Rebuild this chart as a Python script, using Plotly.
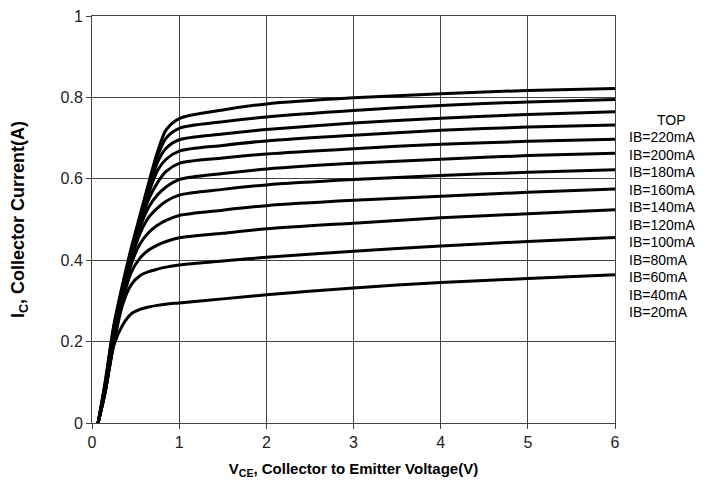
import plotly.graph_objects as go

# V_CE sample points (V)
vce = [0.07, 0.15, 0.25, 0.35, 0.45, 0.55, 0.65, 0.75, 0.85, 1.0, 1.5, 2, 3, 4, 5, 6]

# Collector current (A) for each base current
ib_labels = ["IB=220mA", "IB=200mA", "IB=180mA", "IB=160mA", "IB=140mA", "IB=120mA",
             "IB=100mA", "IB=80mA", "IB=60mA", "IB=40mA", "IB=20mA"]

ic_220 = [0, 0.10, 0.24, 0.34, 0.43, 0.51, 0.59, 0.665, 0.72, 0.748, 0.769, 0.784, 0.799, 0.809, 0.817, 0.822]
ic_200 = [0, 0.095, 0.235, 0.335, 0.425, 0.505, 0.585, 0.655, 0.70, 0.724, 0.740, 0.752, 0.768, 0.780, 0.789, 0.795]
ic_180 = [0, 0.09, 0.23, 0.33, 0.42, 0.50, 0.575, 0.64, 0.675, 0.696, 0.710, 0.721, 0.737, 0.749, 0.758, 0.765]
ic_160 = [0, 0.09, 0.225, 0.325, 0.415, 0.495, 0.565, 0.62, 0.648, 0.668, 0.682, 0.693, 0.707, 0.719, 0.727, 0.732]
ic_140 = [0, 0.085, 0.22, 0.32, 0.41, 0.49, 0.55, 0.59, 0.618, 0.638, 0.651, 0.661, 0.674, 0.685, 0.692, 0.697]
ic_120 = [0, 0.085, 0.215, 0.315, 0.405, 0.48, 0.53, 0.56, 0.58, 0.598, 0.613, 0.624, 0.638, 0.648, 0.657, 0.663]
ic_100 = [0, 0.08, 0.21, 0.31, 0.40, 0.465, 0.505, 0.528, 0.545, 0.56, 0.574, 0.585, 0.598, 0.608, 0.616, 0.622]
ic_80 = [0, 0.08, 0.205, 0.305, 0.39, 0.44, 0.468, 0.486, 0.498, 0.51, 0.523, 0.534, 0.547, 0.557, 0.567, 0.575]
ic_60 = [0, 0.075, 0.20, 0.30, 0.37, 0.405, 0.425, 0.437, 0.446, 0.455, 0.466, 0.477, 0.491, 0.504, 0.514, 0.524]
ic_40 = [0, 0.075, 0.195, 0.29, 0.34, 0.362, 0.372, 0.378, 0.383, 0.388, 0.398, 0.407, 0.422, 0.435, 0.446, 0.456]
ic_20 = [0, 0.075, 0.19, 0.24, 0.268, 0.279, 0.285, 0.289, 0.292, 0.295, 0.305, 0.315, 0.332, 0.345, 0.355, 0.364]

curves = [ic_220, ic_200, ic_180, ic_160, ic_140, ic_120, ic_100, ic_80, ic_60, ic_40, ic_20]

x_ticks = [0, 1, 2, 3, 4, 5, 6]
y_ticks = [0, 0.2, 0.4, 0.6, 0.8, 1]
y_ticktext = ["0", "0.2", "0.4", "0.6", "0.8", "1"]

FONT = "Liberation Sans, Arial, sans-serif"
GRID = "#444444"

fig = go.Figure()
for name, ic in zip(ib_labels, curves):
    fig.add_trace(go.Scatter(
        x=vce, y=ic, mode="lines", name=name,
        line=dict(color="black", width=3, shape="spline", smoothing=0.8),
        showlegend=False,
    ))

# legend-like text on the right
ann = [dict(text="TOP", x=1.108, y=0.745, xref="paper", yref="paper",
            xanchor="center", yanchor="middle", showarrow=False,
            font=dict(family=FONT, size=14, color="black"))]
for i, lab in enumerate(ib_labels):
    ann.append(dict(text=lab, x=1.022, y=0.745 - 0.043 * (i + 1),
                    xref="paper", yref="paper", xanchor="left", yanchor="middle",
                    showarrow=False, font=dict(family=FONT, size=14, color="black")))

fig.update_layout(
    width=704, height=478,
    margin=dict(l=84, r=97, t=8, b=63),
    paper_bgcolor="white", plot_bgcolor="white",
    font=dict(family=FONT, size=16, color="#222222"),
    annotations=ann,
    xaxis=dict(
        range=[0, 6], tickvals=x_ticks, ticktext=[str(v) for v in x_ticks],
        showgrid=True, gridcolor=GRID, gridwidth=1,
        showline=True, linecolor=GRID, linewidth=1, mirror=True,
        ticks="outside", ticklen=5, tickcolor=GRID, zeroline=False,
        tickfont=dict(size=16, color="#222222"), automargin=False,
        ticklabeloverflow="allow",
        title=dict(text="<b>V<sub>CE</sub>, Collector to Emitter Voltage(V)</b>",
                   font=dict(size=15, color="black"), standoff=13),
    ),
    yaxis=dict(
        range=[0, 1], tickvals=y_ticks, ticktext=y_ticktext,
        showgrid=True, gridcolor=GRID, gridwidth=1,
        showline=True, linecolor=GRID, linewidth=1, mirror=True,
        ticks="outside", ticklen=5, tickcolor=GRID, zeroline=False,
        tickfont=dict(size=16, color="#222222"), automargin=False,
        ticklabeloverflow="allow",
        title=dict(text="<b>I<sub>C</sub>, Collector Current(A)</b>",
                   font=dict(size=18, color="black"), standoff=34),
    ),
)

fig.write_html("out.html")
